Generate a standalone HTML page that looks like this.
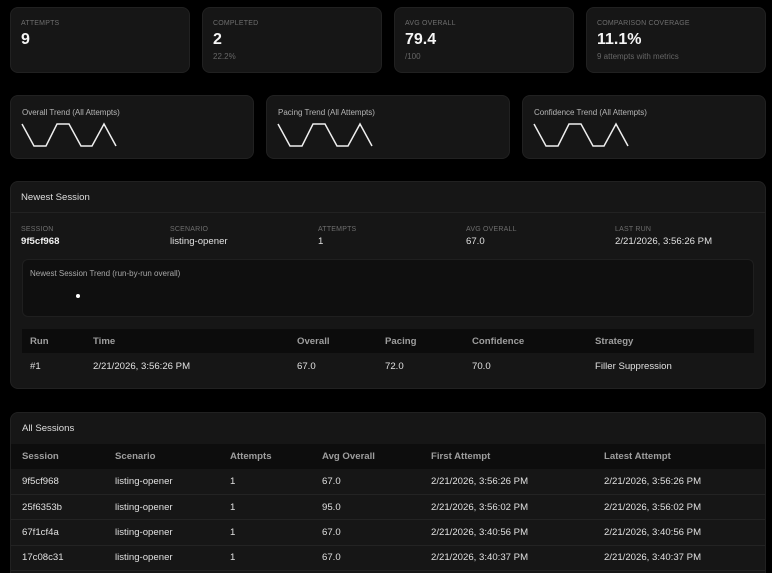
<!DOCTYPE html>
<html><head><meta charset="utf-8"><style>
*{margin:0;padding:0;box-sizing:border-box}
html,body{width:772px;height:573px;background:#000;overflow:hidden;font-family:"Liberation Sans",Arial,sans-serif;color:#e6e6e6}
.a{position:absolute;white-space:nowrap}
.card{position:absolute;background:#161616;border:1px solid #212121;border-radius:8px}
.lbl{position:absolute;font-size:7px;letter-spacing:0.2px;color:#6e6e6e;line-height:12px;white-space:nowrap;margin-top:1px}
.big{position:absolute;font-size:16px;font-weight:bold;color:#f5f5f5;line-height:16px;white-space:nowrap;margin-top:1px}
.sub{position:absolute;font-size:8px;color:#666;line-height:12px;white-space:nowrap;margin-top:1px}
.tt{position:absolute;font-size:8px;color:#b5b5b5;line-height:12px;white-space:nowrap;margin-top:1px}
.t{position:absolute;font-size:9.6px;line-height:12px;white-space:nowrap;color:#e0e0e0;margin-top:1px}
.h{position:absolute;font-size:9.6px;line-height:12px;white-space:nowrap;color:#9e9e9e;font-weight:bold;margin-top:1px}
.ln{position:absolute;height:1px;background:#232323}
</style></head><body>

<!-- top stat cards -->
<div class="card" style="left:10px;top:7px;width:180px;height:66px"></div>
<div class="card" style="left:202px;top:7px;width:180px;height:66px"></div>
<div class="card" style="left:394px;top:7px;width:180px;height:66px"></div>
<div class="card" style="left:586px;top:7px;width:180px;height:66px"></div>

<div class="lbl" style="left:21px;top:17px">ATTEMPTS</div>
<div class="big" style="left:21px;top:31px">9</div>

<div class="lbl" style="left:213px;top:17px">COMPLETED</div>
<div class="big" style="left:213px;top:31px">2</div>
<div class="sub" style="left:213px;top:50px">22.2%</div>

<div class="lbl" style="left:405px;top:17px">AVG OVERALL</div>
<div class="big" style="left:405px;top:31px">79.4</div>
<div class="sub" style="left:405px;top:50px">/100</div>

<div class="lbl" style="left:597px;top:17px">COMPARISON COVERAGE</div>
<div class="big" style="left:597px;top:31px">11.1%</div>
<div class="sub" style="left:597px;top:50px">9 attempts with metrics</div>

<!-- trend cards -->
<div class="card" style="left:10px;top:95px;width:244px;height:64px"></div>
<div class="card" style="left:266px;top:95px;width:244px;height:64px"></div>
<div class="card" style="left:522px;top:95px;width:244px;height:64px"></div>

<div class="tt" style="left:22px;top:106px">Overall Trend (All Attempts)</div>
<div class="tt" style="left:278px;top:106px">Pacing Trend (All Attempts)</div>
<div class="tt" style="left:534px;top:106px">Confidence Trend (All Attempts)</div>

<svg class="a" style="left:0;top:0" width="772" height="170">
<g fill="none" stroke="#eeeeee" stroke-width="1.5" stroke-linejoin="miter">
<polyline points="22,124 34,146 46,146 57,124 69,124 81,146 92,146 104,124 116,146"/>
<polyline transform="translate(256,0)" points="22,124 34,146 46,146 57,124 69,124 81,146 92,146 104,124 116,146"/>
<polyline transform="translate(512,0)" points="22,124 34,146 46,146 57,124 69,124 81,146 92,146 104,124 116,146"/>
</g>
</svg>

<!-- newest session panel -->
<div class="card" style="left:10px;top:181px;width:756px;height:208px"></div>
<div class="t" style="left:21px;top:191px;color:#dedede">Newest Session</div>
<div class="ln" style="left:11px;top:212px;width:754px;background:#222"></div>

<div class="lbl" style="left:21px;top:223px">SESSION</div>
<div class="t" style="left:21px;top:235px;font-weight:bold;color:#f0f0f0">9f5cf968</div>
<div class="lbl" style="left:170px;top:223px">SCENARIO</div>
<div class="t" style="left:170px;top:235px">listing-opener</div>
<div class="lbl" style="left:318px;top:223px">ATTEMPTS</div>
<div class="t" style="left:318px;top:235px">1</div>
<div class="lbl" style="left:466px;top:223px">AVG OVERALL</div>
<div class="t" style="left:466px;top:235px">67.0</div>
<div class="lbl" style="left:615px;top:223px">LAST RUN</div>
<div class="t" style="left:615px;top:235px">2/21/2026, 3:56:26 PM</div>

<div class="a" style="left:22px;top:259px;width:732px;height:58px;background:#0f0f0f;border:1px solid #1f1f1f;border-radius:6px"></div>
<div class="tt" style="left:30px;top:267px;color:#a8a8a8">Newest Session Trend (run-by-run overall)</div>
<div class="a" style="left:76px;top:294px;width:4px;height:4px;border-radius:50%;background:#fff"></div>

<div class="a" style="left:22px;top:329px;width:732px;height:24px;background:#0c0c0c"></div>
<div class="h" style="left:30px;top:335px">Run</div>
<div class="h" style="left:93px;top:335px">Time</div>
<div class="h" style="left:297px;top:335px">Overall</div>
<div class="h" style="left:385px;top:335px">Pacing</div>
<div class="h" style="left:472px;top:335px">Confidence</div>
<div class="h" style="left:595px;top:335px">Strategy</div>

<div class="t" style="left:30px;top:360px">#1</div>
<div class="t" style="left:93px;top:360px">2/21/2026, 3:56:26 PM</div>
<div class="t" style="left:297px;top:360px">67.0</div>
<div class="t" style="left:385px;top:360px">72.0</div>
<div class="t" style="left:472px;top:360px">70.0</div>
<div class="t" style="left:595px;top:360px">Filler Suppression</div>

<!-- all sessions panel -->
<div class="card" style="left:10px;top:412px;width:756px;height:161px;overflow:hidden;border-bottom:none;border-radius:8px 8px 0 0">
  <div class="a" style="left:0;top:31px;width:756px;height:25px;background:#0d0d0d"></div>
</div>
<div class="t" style="left:22px;top:422px;color:#dedede">All Sessions</div>

<div class="h" style="left:22px;top:450px">Session</div>
<div class="h" style="left:115px;top:450px">Scenario</div>
<div class="h" style="left:230px;top:450px">Attempts</div>
<div class="h" style="left:322px;top:450px">Avg Overall</div>
<div class="h" style="left:431px;top:450px">First Attempt</div>
<div class="h" style="left:604px;top:450px">Latest Attempt</div>

<div class="t" style="left:22px;top:475px">9f5cf968</div>
<div class="t" style="left:115px;top:475px">listing-opener</div>
<div class="t" style="left:230px;top:475px">1</div>
<div class="t" style="left:322px;top:475px">67.0</div>
<div class="t" style="left:431px;top:475px">2/21/2026, 3:56:26 PM</div>
<div class="t" style="left:604px;top:475px">2/21/2026, 3:56:26 PM</div>
<div class="ln" style="left:11px;top:494px;width:754px"></div>

<div class="t" style="left:22px;top:501px">25f6353b</div>
<div class="t" style="left:115px;top:501px">listing-opener</div>
<div class="t" style="left:230px;top:501px">1</div>
<div class="t" style="left:322px;top:501px">95.0</div>
<div class="t" style="left:431px;top:501px">2/21/2026, 3:56:02 PM</div>
<div class="t" style="left:604px;top:501px">2/21/2026, 3:56:02 PM</div>
<div class="ln" style="left:11px;top:519px;width:754px"></div>

<div class="t" style="left:22px;top:526px">67f1cf4a</div>
<div class="t" style="left:115px;top:526px">listing-opener</div>
<div class="t" style="left:230px;top:526px">1</div>
<div class="t" style="left:322px;top:526px">67.0</div>
<div class="t" style="left:431px;top:526px">2/21/2026, 3:40:56 PM</div>
<div class="t" style="left:604px;top:526px">2/21/2026, 3:40:56 PM</div>
<div class="ln" style="left:11px;top:545px;width:754px"></div>

<div class="t" style="left:22px;top:551px">17c08c31</div>
<div class="t" style="left:115px;top:551px">listing-opener</div>
<div class="t" style="left:230px;top:551px">1</div>
<div class="t" style="left:322px;top:551px">67.0</div>
<div class="t" style="left:431px;top:551px">2/21/2026, 3:40:37 PM</div>
<div class="t" style="left:604px;top:551px">2/21/2026, 3:40:37 PM</div>
<div class="ln" style="left:11px;top:570px;width:754px"></div>

</body></html>
